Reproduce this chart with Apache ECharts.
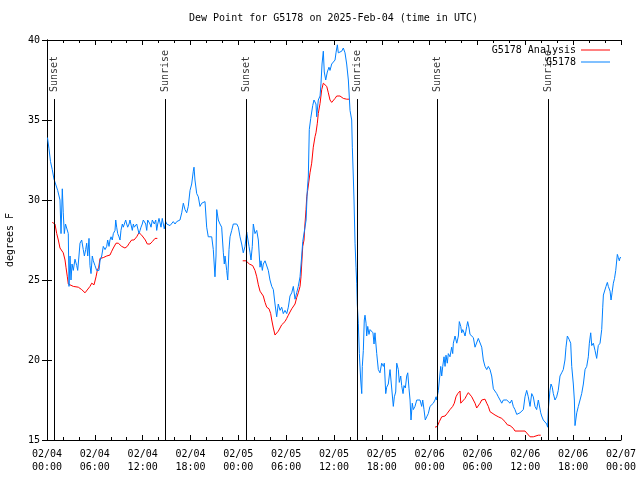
<!DOCTYPE html>
<html>
<head>
<meta charset="utf-8">
<script src="https://cdn.jsdelivr.net/npm/echarts@6/dist/echarts.min.js"></script>
<style>html,body{margin:0;padding:0;background:#fff}#c{width:640px;height:480px}</style>
</head>
<body>
<div id="c"></div>
<script>
// hours since 2025-02-04 00:00 UTC
const obsHours = [0.06,0.25,0.44,0.66,0.88,1.00,1.34,1.63,1.76,1.92,2.04,2.17,2.32,2.47,2.67,2.76,2.89,3.01,3.14,3.30,3.51,3.73,3.85,4.01,4.14,4.35,4.55,4.69,4.85,4.98,5.11,5.27,5.39,5.52,5.68,5.81,6.02,6.23,6.36,6.52,6.65,6.86,7.06,7.28,7.49,7.61,7.78,7.90,8.03,8.19,8.32,8.53,8.62,8.74,8.87,9.03,9.16,9.28,9.45,9.57,9.70,9.87,10.00,10.12,10.29,10.41,10.54,10.70,10.83,10.95,11.13,11.25,11.42,11.54,11.67,11.79,11.95,12.08,12.21,12.38,12.51,12.63,12.79,12.92,13.05,13.21,13.33,13.46,13.64,13.76,13.89,14.05,14.17,14.30,14.46,14.59,14.71,14.89,15.02,15.43,15.84,16.06,16.27,16.68,16.90,17.10,17.31,17.52,17.72,17.94,18.15,18.35,18.44,18.56,18.78,18.98,19.19,19.41,19.61,19.82,20.03,20.23,20.66,20.86,21.07,21.20,21.29,21.49,21.70,21.91,22.12,22.24,22.33,22.54,22.67,22.83,22.96,23.17,23.37,23.80,24.00,24.21,24.42,24.62,24.84,25.05,25.18,25.34,25.47,25.59,25.75,25.88,26.09,26.31,26.51,26.72,26.84,27.01,27.13,27.35,27.56,27.76,27.97,28.19,28.39,28.60,28.81,29.01,29.23,29.44,29.64,29.85,30.07,30.27,30.48,30.70,30.90,31.11,31.32,31.52,31.74,31.95,32.08,32.33,32.50,32.65,32.78,32.90,33.08,33.33,33.49,33.74,33.83,34.03,34.25,34.37,34.50,34.66,34.78,34.96,35.16,35.37,35.50,35.71,35.91,36.13,36.25,36.42,36.54,36.75,36.97,37.17,37.38,37.59,37.80,38.01,38.22,38.30,38.42,38.51,38.64,38.76,38.85,38.92,39.05,39.18,39.35,39.48,39.55,39.68,39.80,39.89,40.02,40.10,40.23,40.39,40.52,40.73,40.89,41.02,41.14,41.36,41.56,41.77,41.98,42.19,42.31,42.49,42.61,42.81,43.03,43.24,43.44,43.57,43.74,43.87,44.07,44.19,44.37,44.49,44.66,44.78,44.95,45.12,45.25,45.41,45.54,45.66,45.82,45.95,46.16,46.38,46.57,46.79,47.00,47.13,47.29,47.45,47.63,47.83,48.04,48.26,48.46,48.67,48.80,48.88,49.09,49.30,49.39,49.51,49.64,49.80,49.93,50.05,50.21,50.34,50.55,50.76,50.89,50.97,51.18,51.40,51.60,51.72,51.90,52.02,52.15,52.31,52.44,52.65,52.77,52.94,53.06,53.28,53.48,53.69,53.90,54.10,54.32,54.53,54.73,54.94,55.16,55.36,55.57,55.78,55.99,56.20,56.41,56.61,56.83,57.04,57.24,57.45,57.67,57.87,58.08,58.29,58.49,58.70,58.92,59.12,59.33,59.75,59.96,60.17,60.37,60.59,60.80,61.00,61.21,61.42,61.63,61.75,61.93,62.05,62.25,62.47,62.68,62.80,62.88,63.09,63.22,63.38,63.51,63.72,63.93,64.13,64.35,64.56,64.76,64.97,65.10,65.27,65.48,65.69,65.82,66.02,66.15,66.23,66.45,66.65,66.86,67.07,67.28,67.49,67.70,67.90,68.03,68.20,68.33,68.53,68.74,68.95,69.15,69.37,69.58,69.71,69.79,70.00,70.12,70.29,70.41,70.63,70.75,70.88,71.04,71.19,71.34,71.47,71.54,71.67,71.79,71.88,72.00];
const obsDewpt = [33.9,33.2,32.4,31.9,31.3,31.25,30.6,30.0,27.9,30.7,29.2,27.9,28.5,28.5,27.9,24.6,26.5,25.0,26.0,25.6,26.3,25.9,25.6,26.5,27.3,27.5,26.9,26.5,26.9,27.3,26.5,27.6,25.9,25.4,26.5,26.2,25.9,25.6,25.5,25.6,26.2,26.5,27.1,26.9,27.1,27.5,27.1,27.5,27.7,27.5,27.9,28.1,28.75,28.3,27.9,27.7,27.5,28.1,28.5,28.3,28.5,28.75,28.5,28.3,28.5,28.75,28.65,28.1,28.5,28.3,28.4,28.5,28.5,27.9,28.1,28.3,28.5,28.75,28.85,28.5,28.1,28.75,28.85,28.5,28.3,28.75,28.85,28.5,28.75,28.1,28.5,28.85,28.75,28.3,28.85,28.5,28.2,28.65,28.5,28.4,28.65,28.5,28.65,28.75,29.2,29.8,29.4,29.2,29.6,30.6,31.0,31.8,32.05,31.25,30.4,30.2,29.6,29.8,29.85,29.9,28.3,27.7,27.7,26.9,25.2,26.5,29.4,28.75,28.5,28.3,26.7,26.0,26.5,25.6,25.0,26.9,27.7,28.1,28.5,28.5,28.3,27.7,27.25,26.7,27.1,28.0,27.9,27.1,26.7,26.25,27.1,28.5,27.9,28.1,27.5,25.8,26.2,25.6,26.0,26.2,26.2,25.6,25.0,24.6,24.4,23.5,22.7,23.5,23.1,23.3,22.9,23.1,22.9,23.3,24.0,24.2,24.6,23.8,24.2,24.6,25.2,26.5,27.4,27.4,28.75,30.6,31.5,34.4,35.1,35.9,36.25,36.0,35.2,36.25,36.5,37.3,38.5,39.3,38.0,37.5,38.0,38.3,38.1,38.5,38.4,38.75,39.2,39.7,39.2,39.1,39.3,39.5,39.2,38.5,37.5,35.6,35.0,33.3,31.5,30.0,27.3,25.8,24.8,23.5,22.3,20.4,18.75,17.9,19.6,20.6,22.5,22.8,22.3,21.5,22.1,21.6,21.9,22.0,21.7,21.0,21.7,20.4,19.4,19.2,19.8,19.6,19.8,17.9,18.3,18.5,19.4,19.5,17.1,17.7,18.0,19.8,19.4,18.6,19.0,18.4,17.9,18.4,18.25,19.0,19.2,18.2,17.5,16.25,17.3,16.9,17.1,17.5,17.6,17.5,17.1,17.5,16.9,16.25,16.45,16.65,17.1,17.1,17.3,17.5,17.7,17.5,18.1,18.1,19.6,19.0,19.6,20.2,19.6,20.3,19.8,20.4,20.2,20.8,20.4,21.05,21.5,21.05,21.5,22.4,22.1,21.7,21.9,21.7,21.5,22.1,22.4,22.0,21.6,21.5,21.4,20.8,20.7,21.35,21.25,20.8,20.0,19.6,19.4,19.6,19.4,19.0,18.2,18.1,17.9,17.7,17.5,17.3,17.5,17.4,17.5,17.5,17.3,17.5,17.1,16.9,16.6,16.7,16.7,16.9,17.7,18.1,17.7,17.1,17.9,17.7,17.1,16.9,17.5,17.6,16.7,16.5,16.25,16.15,16.0,15.8,16.9,18.1,18.5,18.3,17.9,17.5,17.7,18.1,19.0,19.2,19.4,20.0,20.8,21.5,21.3,21.05,19.6,18.5,17.5,15.9,16.7,17.1,17.5,17.9,18.5,19.4,19.6,20.2,21.05,21.7,20.9,21.05,20.6,20.1,20.9,21.05,21.9,23.3,24.06,24.06,24.6,24.85,24.6,24.3,23.75,24.2,24.8,25.1,25.6,26.25,26.6,26.4,26.2,26.4,26.4];

// analysis; null marks a gap in the record
const anaHours = [0.66,1.00,1.22,1.42,1.63,1.84,2.04,2.26,2.38,2.55,2.67,2.89,3.30,3.93,4.35,4.77,4.98,5.39,5.61,5.90,6.15,6.31,6.49,6.65,7.06,7.49,7.90,8.12,8.32,8.66,8.94,9.37,9.78,10.07,10.32,10.62,10.91,11.25,11.54,11.75,11.88,12.08,12.33,12.58,12.92,13.21,13.55,13.84,
  19.0,
  24.55,24.96,25.13,25.38,25.80,25.97,26.09,26.31,26.51,26.72,26.93,27.13,27.35,27.56,27.85,28.06,28.19,28.39,28.60,28.73,29.01,29.23,29.44,29.64,29.85,30.07,30.27,30.48,30.70,30.90,31.11,31.32,31.52,31.74,31.86,31.95,32.08,32.24,32.36,32.49,32.58,32.70,32.87,32.99,33.20,33.40,33.62,33.74,33.91,34.03,34.25,34.46,34.66,34.87,35.09,35.29,35.50,35.71,35.91,36.13,36.34,36.54,36.75,36.97,37.17,37.38,37.59,37.92,
  43.0,
  48.67,48.96,49.21,49.51,49.93,50.21,50.55,50.89,51.09,51.30,51.52,51.81,51.90,52.15,52.44,52.65,52.85,53.06,53.28,53.48,53.69,53.90,54.10,54.32,54.53,54.73,54.94,55.16,55.36,55.57,55.78,56.20,56.61,57.04,57.45,57.74,58.08,58.49,58.70,59.33,59.96,60.17,60.59,61.00,61.21,61.63,61.93];
const anaDewpt = [28.6,28.5,27.9,27.5,27.0,26.9,26.7,26.25,25.8,25.2,24.75,24.7,24.6,24.55,24.4,24.2,24.3,24.6,24.8,24.7,25.2,25.6,25.8,26.35,26.4,26.5,26.56,26.8,27.0,27.3,27.3,27.1,27.0,27.1,27.3,27.5,27.5,27.7,27.96,28.0,27.8,27.8,27.5,27.25,27.25,27.4,27.6,27.6,
  null,
  26.2,26.2,26.1,26.0,25.9,25.9,25.6,25.2,24.7,24.3,24.2,24.0,23.6,23.3,23.2,22.9,22.5,22.0,21.56,21.5,21.8,22.0,22.2,22.3,22.4,22.6,22.8,23.0,23.2,23.3,23.5,23.9,24.2,24.6,25.2,26.0,27.1,27.5,28.5,29.4,30.2,30.6,31.25,31.7,32.3,33.3,33.96,34.2,34.8,35.4,36.04,36.9,37.3,37.4,37.1,36.7,36.25,36.1,36.15,36.35,36.5,36.56,36.5,36.45,36.35,36.35,36.3,36.3,
  null,
  15.8,15.85,16.15,16.45,16.5,16.67,16.9,17.1,17.3,17.7,17.9,18.06,17.3,17.4,17.6,17.8,17.96,17.9,17.7,17.5,17.3,17.0,17.1,17.3,17.5,17.6,17.55,17.3,17.1,16.77,16.67,16.56,16.45,16.35,16.15,15.95,15.9,15.73,15.56,15.56,15.56,15.46,15.2,15.2,15.3,15.3,15.3];

const eventHours = [0.93, 14.85, 24.96, 38.92, 48.96, 62.88];
const eventNames = ['Sunset', 'Sunrise', 'Sunset', 'Sunrise', 'Sunset', 'Sunrise'];
const xTickLabels = ['02/04\n00:00','02/04\n06:00','02/04\n12:00','02/04\n18:00','02/05\n00:00','02/05\n06:00','02/05\n12:00','02/05\n18:00','02/06\n00:00','02/06\n06:00','02/06\n12:00','02/06\n18:00','02/07\n00:00'];
const yTicks = [15, 20, 25, 30, 35, 40];

const FONT = 'DejaVu Sans Mono';
const obsData = obsHours.map((h, i) => [h, obsDewpt[i]]);
const anaData = anaHours.map((h, i) => [h, anaDewpt[i] === null ? '-' : anaDewpt[i]]);
const eventLabelY = 36.75, eventLineTop = 36.31;

const chart = echarts.init(document.getElementById('c'), null, {renderer: 'canvas'});
const xCommon = {
  type: 'value', min: 0, max: 72, interval: 6,
  axisLine: {show: true, onZero: false, lineStyle: {color: '#000', width: 1}},
  axisTick: {show: true, inside: true, length: 5, lineStyle: {color: '#000'}},
  minorTick: {show: true, splitNumber: 3, length: 3, lineStyle: {color: '#000'}},
  splitLine: {show: false}, minorSplitLine: {show: false}
};
const yCommon = {
  type: 'value', min: yTicks[0], max: yTicks[yTicks.length - 1], interval: 5,
  axisLine: {show: true, lineStyle: {color: '#000', width: 1}},
  axisTick: {show: true, inside: true, length: 5, lineStyle: {color: '#000'}},
  splitLine: {show: false}
};
const legendCommon = {
  right: 30, padding: 0, align: 'right', itemWidth: 29, itemHeight: 1, icon: 'rect',
  textStyle: {fontFamily: FONT, fontSize: 10, color: '#000'}
};
chart.setOption({
  animation: false,
  backgroundColor: '#fff',
  textStyle: {fontFamily: FONT},
  title: {
    text: 'Dew Point for G5178 on 2025-Feb-04 (time in UTC)',
    left: 189, top: 13, padding: 0,
    textStyle: {fontFamily: FONT, fontSize: 10, fontWeight: 'normal', color: '#000'}
  },
  grid: {left: 47, right: 19, top: 40, bottom: 40, containLabel: false, outerBoundsMode: 'none'},
  legend: [
    Object.assign({data: ['G5178 Analysis'], top: 45}, legendCommon),
    Object.assign({data: ['G5178'], top: 57}, legendCommon)
  ],
  xAxis: [
    Object.assign({}, xCommon, {position: 'bottom',
      axisLabel: {show: true, margin: 8, color: '#000', fontFamily: FONT, fontSize: 10, lineHeight: 13,
        formatter: v => xTickLabels[Math.round(v / 6)]}}),
    Object.assign({}, xCommon, {position: 'top', axisLabel: {show: false}})
  ],
  yAxis: [
    Object.assign({}, yCommon, {position: 'left',
      name: 'degrees F', nameLocation: 'middle', nameGap: 32, nameRotate: 90,
      nameTextStyle: {fontFamily: FONT, fontSize: 10, color: '#000'},
      axisLabel: {show: true, margin: 7, color: '#000', fontFamily: FONT, fontSize: 10}}),
    Object.assign({}, yCommon, {position: 'right', axisLabel: {show: false}})
  ],
  series: [
    {
      name: 'G5178 Analysis', type: 'line', data: anaData, showSymbol: false, symbol: 'none',
      connectNulls: false, lineStyle: {color: '#ff0000', width: 1}, itemStyle: {color: '#ff0000'}, z: 2
    },
    {
      name: 'G5178', type: 'line', data: obsData, showSymbol: false, symbol: 'none',
      lineStyle: {color: '#0080ff', width: 1}, itemStyle: {color: '#0080ff'}, z: 3
    },
    {
      name: 'events', type: 'scatter', symbolSize: 0, z: 5,
      data: eventHours.map((h, i) => ({value: [h, eventLabelY], name: eventNames[i]})),
      label: {show: true, position: 'inside', rotate: 90, align: 'left', verticalAlign: 'middle',
        formatter: p => p.name, color: '#000', fontFamily: FONT, fontSize: 10},
      markLine: {
        silent: true, symbol: 'none', animation: false,
        label: {show: false},
        lineStyle: {color: '#000', width: 1, type: 'solid'},
        data: eventHours.map(h => [{coord: [h, yTicks[0]]}, {coord: [h, eventLineTop]}])
      }
    }
  ]
});
</script>
</body>
</html>
